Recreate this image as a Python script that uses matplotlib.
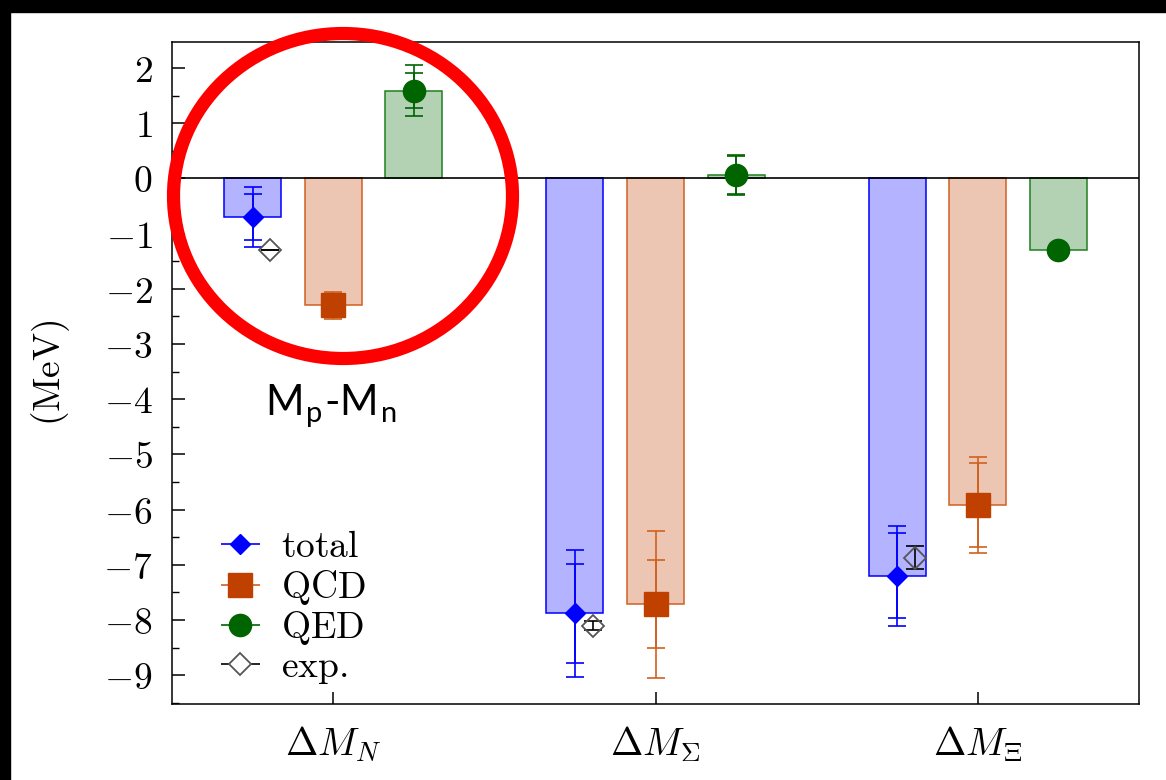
import numpy as np
import matplotlib
matplotlib.use("Agg")
import matplotlib.pyplot as plt
from matplotlib.patches import Ellipse, Rectangle
from matplotlib.legend_handler import HandlerErrorbar

plt.rcParams['mathtext.fontset'] = 'cm'
plt.rcParams['font.family'] = 'serif'

# Isospin mass splittings (MeV)
groups = [r'$\Delta M_N$', r'$\Delta M_\Sigma$', r'$\Delta M_\Xi$']

total = [-0.70, -7.88, -7.20]
total_err_in = [0.41, 0.89, 0.77]
total_err_out = [0.54, 1.15, 0.90]

qcd = [-2.30, -7.71, -5.91]
qcd_err_in = [0.20, 0.80, 0.76]
qcd_err_out = [0.25, 1.33, 0.87]

qed = [1.59, 0.06, -1.30]
qed_err_in = [0.31, 0.35, 0.05]
qed_err_out = [0.46, 0.37, 0.06]

exp = [-1.29, -8.10, -6.87]
exp_err = [0.00, 0.08, 0.21]

series = [
    # label, values, inner err, outer err, marker, ms, marker colour, bar face, bar edge
    ('total', total, total_err_in, total_err_out, 'D', 10.5, '#0000ff', '#b3b3ff', '#0000ff'),
    ('QCD', qcd, qcd_err_in, qcd_err_out, 's', 17, '#c04000', '#ecc6b3', '#d0601f'),
    ('QED', qed, qed_err_in, qed_err_out, 'o', 16, '#006400', '#b3d1b3', '#1f801f'),
]

x = np.arange(len(groups))
offsets = [-0.25, 0.0, 0.25]
bar_w = 0.177
FS = 27

fig = plt.figure(figsize=(11.66, 7.8), dpi=100)
ax = fig.add_axes([0.1475, 0.0974, 0.8294, 0.8488])

handles = []
for (label, vals, e_in, e_out, mk, ms, mc, face, edge), off in zip(series, offsets):
    xs = x + off
    ax.bar(xs, vals, width=bar_w, color=face, edgecolor=edge, linewidth=1.1, zorder=2)
    ecol = edge if label == 'QCD' else mc
    ax.errorbar(xs, vals, yerr=e_out, fmt='none', ecolor=ecol, elinewidth=1.2,
                capsize=6.5, capthick=1.2, zorder=3)
    ax.errorbar(xs, vals, yerr=e_in, fmt='none', ecolor=ecol, elinewidth=1.2,
                capsize=6.5, capthick=1.2, zorder=3)
    ax.plot(xs, vals, linestyle='none', marker=mk, ms=ms, color=mc, zorder=4)
    # legend proxy with horizontal error bar
    h = ax.errorbar([], [], xerr=[], fmt=mk, ms=ms, color=mc, ecolor=ecol,
                    elinewidth=1.2, capsize=6.5, capthick=1.2,
                    label=r'$\mathrm{%s}$' % label)
    handles.append(h)

# experimental values
xe = x - 0.25 + 0.055
ax.errorbar(xe, exp, yerr=exp_err, fmt='none', ecolor='black', elinewidth=1.2,
            capsize=6.5, capthick=1.2, zorder=5)
ax.plot(xe, exp, linestyle='none', marker='D', ms=11, markerfacecolor='none',
        markeredgecolor='#555555', markeredgewidth=1.3, zorder=5)
h = ax.errorbar([], [], xerr=[], fmt='D', ms=11, markerfacecolor='white',
                markeredgecolor='#555555', markeredgewidth=1.3, ecolor='black',
                elinewidth=1.2, capsize=6.5, capthick=1.2, label=r'$\mathrm{exp.}$')
handles.append(h)

ax.axhline(0, color='black', linewidth=1.2, zorder=3)

ax.set_xlim(-0.5, 2.5)
ax.set_ylim(-9.52, 2.47)
ax.set_xticks(x)
ax.set_xticklabels(groups, fontsize=FS + 1)
yt = np.arange(-9, 3)
ax.set_yticks(yt)
ax.set_yticklabels([r'$%d$' % v for v in yt], fontsize=FS)
ax.set_yticks(np.arange(-9.5, 2.5, 0.5), minor=True)
ax.tick_params(axis='y', which='major', direction='in', length=9, width=1.1, pad=14)
ax.tick_params(axis='y', which='minor', direction='in', length=5, width=1.0)
ax.tick_params(axis='x', which='major', direction='in', length=9, width=1.1, pad=15)
ax.tick_params(axis='x', which='minor', bottom=False)
for s in ax.spines.values():
    s.set_linewidth(1.1)

ax.set_ylabel(r'$\mathrm{(MeV)}$', fontsize=FS)
ax.yaxis.set_label_coords(-0.103, 0.5)

ax.legend(handles=handles, loc='lower left', bbox_to_anchor=(0.05, 0.027),
          frameon=False, fontsize=FS, numpoints=1, handlelength=1.07,
          handletextpad=0.56, labelspacing=0.06, borderpad=0, borderaxespad=0,
          handler_map={type(handles[0]): HandlerErrorbar(xerr_size=0.53)})

# highlight around the nucleon group
fig.patches.append(Ellipse((343 / 1166, 1 - 196 / 780), 339 / 1166, 325 / 780,
                           transform=fig.transFigure, fill=False,
                           edgecolor='#ff0000', linewidth=9.5, zorder=10))
fig.text(265 / 1166, 1 - 416 / 780, r'M$_{\mathregular{p}}$-M$_{\mathregular{n}}$',
         family='Lato', fontsize=30, ha='left', va='baseline', color='black')

# dark frame strips along top and left edge
fig.patches.append(Rectangle((0, 1 - 12 / 780), 1, 12 / 780, transform=fig.transFigure,
                             color='black', zorder=20))
fig.patches.append(Rectangle((0, 0), 10 / 1166, 1, transform=fig.transFigure,
                             color='black', zorder=20))

fig.savefig('out.png', dpi=100)
